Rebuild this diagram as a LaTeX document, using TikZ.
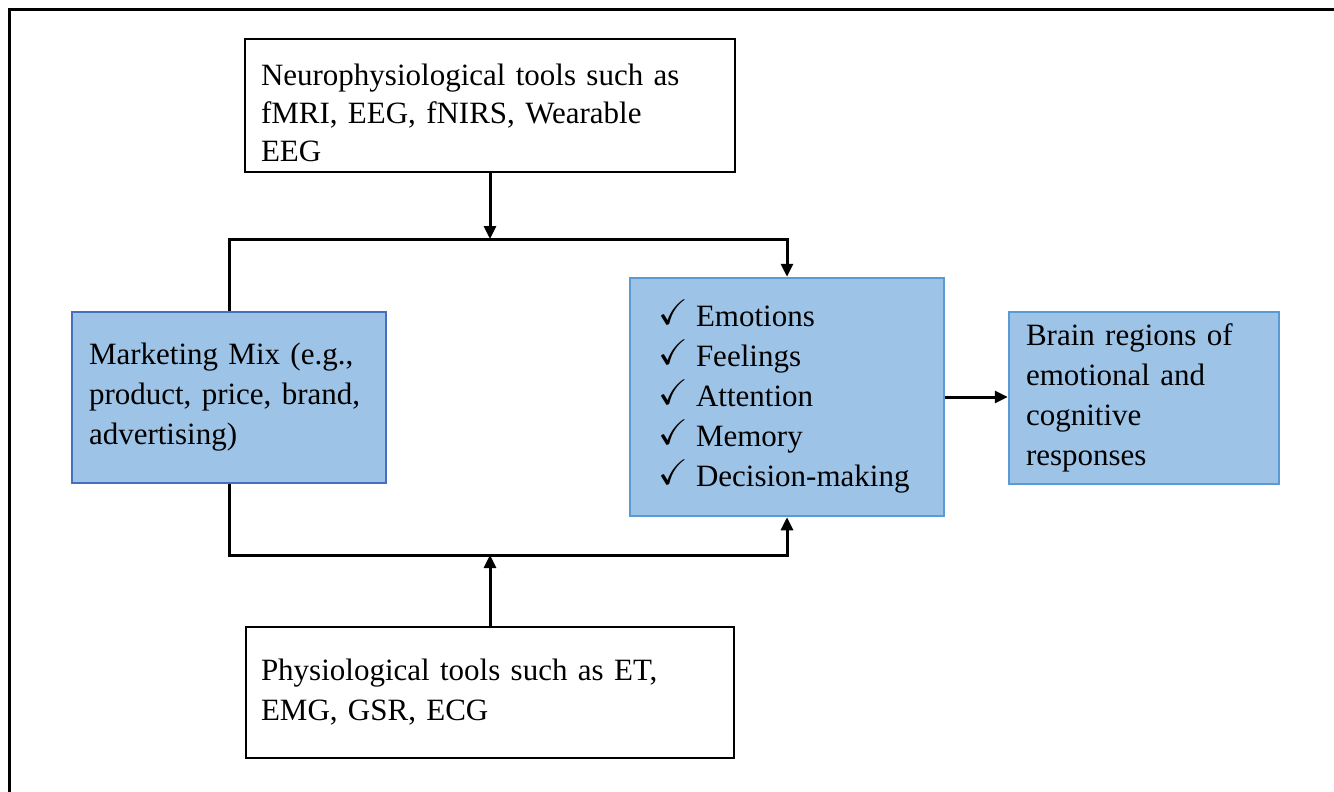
\documentclass[tikz,border=0pt]{standalone}
\usepackage{fontspec}
\usepackage{amssymb}
\usepackage{graphicx}
\setmainfont{Liberation Serif}
\usetikzlibrary{arrows.meta}
\definecolor{boxblue}{RGB}{157,195,230}
\definecolor{edgeblue}{RGB}{91,155,213}
\definecolor{edgedark}{RGB}{72,110,190}
\newcommand{\ck}{\makebox[38pt][l]{\raisebox{2pt}{\scalebox{1.15}{$\checkmark$}}}}
\tikzset{
  every node/.style={font=\fontsize{31}{40}\selectfont},
  whitebox/.style={draw=black, line width=2pt, fill=white, align=left, inner ysep=0pt},
  bluebox/.style={draw=edgeblue, line width=2.5pt, fill=boxblue, align=left, inner ysep=0pt},
  conn/.style={draw=black, line width=3pt},
  arr/.style={conn, -{Triangle[length=13pt,width=12pt]}},
  frameline/.style={draw=black, line width=3pt}
}
\begin{document}
\begin{tikzpicture}[x=1pt,y=-1pt]
\useasboundingbox (0,0) rectangle (1334,792);
\draw[frameline] (9,792) -- (9,10) -- (1334,10);

\node[whitebox, minimum width=490pt, minimum height=133pt, text width=458pt, inner xsep=16pt] (top) at (490,105.5) {};
\node[align=left, anchor=center, text width=458pt, inner sep=0pt] (toptext) at (490,113)
  {Neurophysiological tools such as\\[-2pt] fMRI, EEG, fNIRS, Wearable\\[-2pt] EEG};
\node[bluebox, draw=edgedark, minimum width=314pt, minimum height=171pt, text width=280pt, inner xsep=17pt] (mm) at (229,397.5)
  {Marketing Mix (e.g.,\\ product, price, brand,\\ advertising)};
\node[bluebox, minimum width=314pt, minimum height=238pt, text width=258pt, inner xsep=28pt] (cb) at (787,397)
  {\ck Emotions\\
   \ck Feelings\\
   \ck Attention\\
   \ck Memory\\
   \ck Decision-making};
\node[bluebox, minimum width=270pt, minimum height=172pt, text width=236pt, inner xsep=17pt] (br) at (1144,398)
  {Brain regions of\\ emotional and\\ cognitive\\ responses};
\node[whitebox, minimum width=488pt, minimum height=131pt, text width=458pt, inner xsep=15pt] (bot) at (490,692.5)
  {Physiological tools such as ET,\\ EMG, GSR, ECG};

\coordinate (jt) at (490,239);
\coordinate (jb) at (490,555);

\draw[arr] (top.south) -- (jt);
\draw[arr] (mm.north) |- (cb.north |- jt) -- (cb.north);
\draw[arr] (bot.north) -- (jb);
\draw[arr] (mm.south) |- (cb.south |- jb) -- (cb.south);
\draw[arr] (cb.east) -- (br.west |- cb.east);
\end{tikzpicture}
\end{document}
